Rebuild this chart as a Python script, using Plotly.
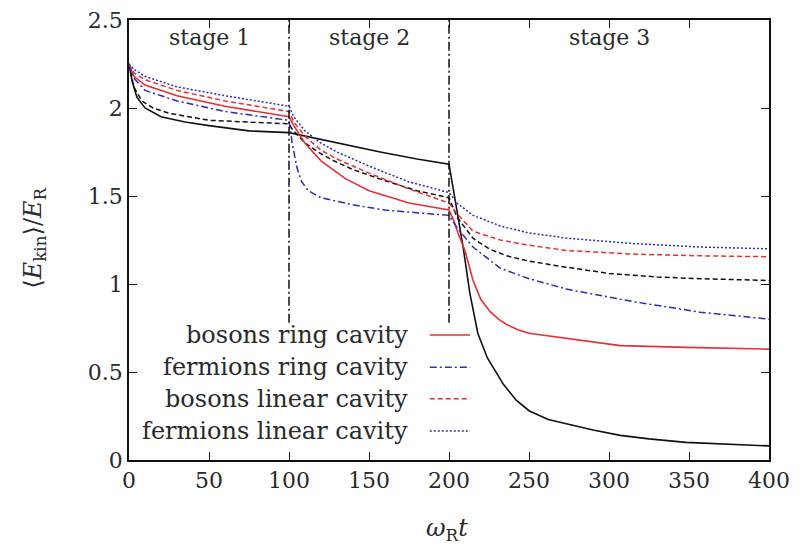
import plotly.graph_objects as go

# ---------------- data ----------------
# black solid reference curve (no legend entry)
ref_solid_x = [0, 2, 5, 10, 20, 35, 50, 75, 100, 105, 130, 157, 180, 200,
               204, 209, 213, 218, 224, 234, 242, 250, 262, 276, 290, 307, 325, 348, 375, 400]
ref_solid_y = [2.25, 2.15, 2.06, 2.00, 1.95, 1.92, 1.90, 1.87, 1.86, 1.85, 1.80, 1.75, 1.71, 1.68,
               1.47, 1.20, 0.95, 0.72, 0.58, 0.43, 0.34, 0.28, 0.23, 0.20, 0.17, 0.14, 0.12, 0.10, 0.09, 0.08]

# black dashed reference curve (no legend entry)
ref_dash_x = [0, 3, 8, 15, 25, 50, 75, 100, 102, 110, 120, 128, 140, 159, 180, 200,
              205, 215, 225, 236, 250, 270, 300, 330, 357, 400]
ref_dash_y = [2.25, 2.12, 2.04, 2.00, 1.97, 1.93, 1.92, 1.91, 1.88, 1.80, 1.74, 1.70, 1.65, 1.59, 1.53, 1.49,
              1.38, 1.26, 1.20, 1.16, 1.13, 1.10, 1.06, 1.04, 1.03, 1.02]

# bosons ring cavity
bos_ring_x = [0, 3, 10, 30, 60, 100, 103, 110, 120, 135, 150, 175, 200,
              203, 206, 210, 215, 220, 226, 231, 236, 243, 250, 267, 307, 348, 400]
bos_ring_y = [2.25, 2.18, 2.13, 2.07, 2.01, 1.95, 1.90, 1.80, 1.70, 1.60, 1.53, 1.46, 1.42,
              1.36, 1.28, 1.19, 1.02, 0.91, 0.84, 0.80, 0.77, 0.74, 0.72, 0.70, 0.65, 0.64, 0.63]

# fermions ring cavity
fer_ring_x = [0, 3, 10, 30, 60, 100, 102, 105, 108, 112, 120, 140, 160, 200,
              205, 215, 232, 250, 274, 315, 357, 400]
fer_ring_y = [2.25, 2.17, 2.10, 2.04, 1.98, 1.93, 1.80, 1.66, 1.58, 1.53, 1.49, 1.45, 1.42, 1.39,
              1.32, 1.21, 1.09, 1.03, 0.97, 0.90, 0.84, 0.80]

# bosons linear cavity
bos_lin_x = [0, 3, 10, 30, 60, 100, 103, 110, 120, 130, 150, 175, 200,
             205, 215, 232, 250, 274, 315, 357, 400]
bos_lin_y = [2.25, 2.20, 2.16, 2.10, 2.04, 1.98, 1.92, 1.84, 1.76, 1.71, 1.63, 1.54, 1.46,
             1.40, 1.30, 1.25, 1.22, 1.19, 1.17, 1.16, 1.155]

# fermions linear cavity
fer_lin_x = [0, 3, 10, 30, 60, 100, 103, 110, 120, 130, 150, 175, 200,
             205, 215, 232, 250, 274, 315, 357, 400]
fer_lin_y = [2.25, 2.22, 2.18, 2.12, 2.07, 2.01, 1.95, 1.87, 1.80, 1.75, 1.67, 1.58, 1.52,
             1.46, 1.39, 1.33, 1.29, 1.26, 1.23, 1.21, 1.20]

stage_bounds = [100, 200]
stage_line_bottom = 0.78
stage_names = ["stage 1", "stage 2", "stage 3"]
stage_centers = [50, 150, 300]

legend_names = ["bosons ring cavity", "fermions ring cavity",
                "bosons linear cavity", "fermions linear cavity"]

x_ticks = [0, 50, 100, 150, 200, 250, 300, 350, 400]
y_ticks = [0, 0.5, 1, 1.5, 2, 2.5]

# ---------------- styling ----------------
RED = "#e53035"
BLUE = "#2a2ac0"
BLACK = "#111111"
FONT = "DejaVu Serif"
TXT = "#2a2a2a"

fig = go.Figure()

fig.add_trace(go.Scatter(x=ref_dash_x, y=ref_dash_y, mode="lines", showlegend=False,
                         line=dict(color=BLACK, width=1.5, dash="5px,3px")))
fig.add_trace(go.Scatter(x=ref_solid_x, y=ref_solid_y, mode="lines", showlegend=False,
                         line=dict(color=BLACK, width=1.6)))

series = [
    (bos_ring_x, bos_ring_y, RED, "solid", 1.6),
    (fer_ring_x, fer_ring_y, BLUE, "7px,3px,2px,3px", 1.5),
    (bos_lin_x, bos_lin_y, RED, "5px,3px", 1.5),
    (fer_lin_x, fer_lin_y, BLUE, "2px,2px", 1.5),
]
for (xs, ys, c, d, w), name in zip(series, legend_names):
    fig.add_trace(go.Scatter(x=xs, y=ys, mode="lines", name=name, showlegend=False,
                             line=dict(color=c, width=w, dash=d)))

# stage boundary lines
for xb in stage_bounds:
    fig.add_trace(go.Scatter(x=[xb, xb], y=[stage_line_bottom, y_ticks[-1]], mode="lines",
                             showlegend=False, hoverinfo="skip",
                             line=dict(color=BLACK, width=1.5, dash="9px,3px,2px,3px")))

# stage labels
for name, xc in zip(stage_names, stage_centers):
    fig.add_annotation(x=xc, y=2.40, text=name, showarrow=False, xref="x", yref="y",
                       font=dict(family=FONT, size=22, color=TXT))

# gnuplot-style legend: text right-aligned, sample to the right
leg_rows = [0.284, 0.211, 0.139, 0.066]
for (xs, ys, c, d, w), name, yr in zip(series, legend_names, leg_rows):
    fig.add_annotation(x=0.439, y=yr, xref="paper", yref="paper", text=name,
                       showarrow=False, xanchor="right", yanchor="middle",
                       font=dict(family=FONT, size=24, color=TXT))
    fig.add_shape(type="line", xref="paper", yref="paper", x0=0.470, x1=0.533, y0=yr, y1=yr,
                  line=dict(color=c, width=w, dash=d))

# axis titles as annotations (fixed margins, no automargin)
fig.add_annotation(x=0.497, y=-0.158, xref="paper", yref="paper", showarrow=False,
                   text="<i>ω</i><sub>R</sub><i>t</i>", xanchor="center", yanchor="middle",
                   font=dict(family=FONT, size=24, color=TXT))
fig.add_annotation(x=-0.147, y=0.505, xref="paper", yref="paper", showarrow=False, textangle=-90,
                   text="⟨<i>E</i><sub>kin</sub>⟩/<i>E</i><sub>R</sub>", xanchor="center", yanchor="middle",
                   font=dict(family=FONT, size=24, color=TXT))

axis_common = dict(showgrid=False, zeroline=False, showline=True, linecolor=BLACK, linewidth=1.5,
                   mirror="ticks", ticks="inside", ticklen=8, tickwidth=1.3, tickcolor=BLACK,
                   automargin=False, ticklabeloverflow="allow",
                   tickfont=dict(family=FONT, size=22, color=TXT))

fig.update_xaxes(range=[0, 400], tickvals=x_ticks, ticktext=[str(v) for v in x_ticks], **axis_common)
fig.update_yaxes(range=[0, 2.5], tickvals=y_ticks, ticktext=["0", "0.5", "1", "1.5", "2", "2.5"],
                 **axis_common)

# page body has an 8px margin, so shift margins and size accordingly
fig.update_layout(width=801, height=541, paper_bgcolor="white", plot_bgcolor="white",
                  margin=dict(l=121, r=40, t=12, b=89), showlegend=False)

fig.write_html("out.html")
